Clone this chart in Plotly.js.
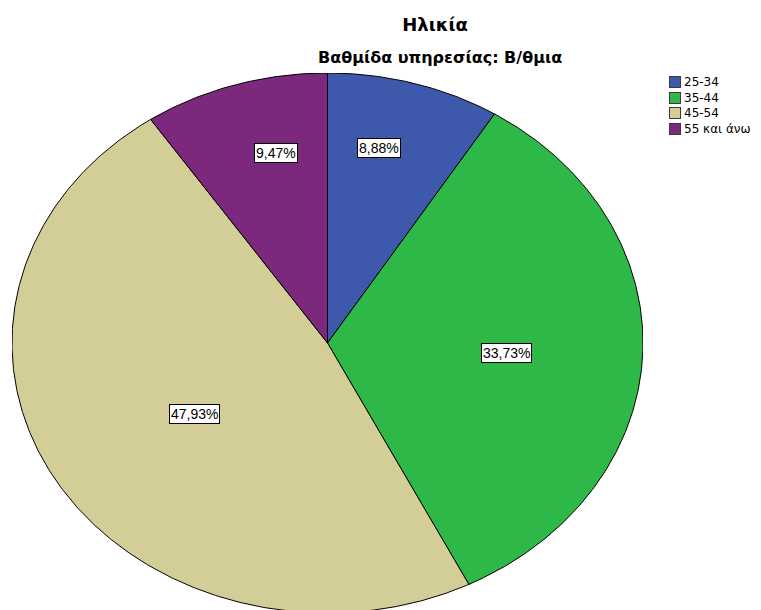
<!DOCTYPE html>
<html>
<head>
<meta charset="utf-8">
<script src="https://cdn.plot.ly/plotly-3.0.1.min.js"></script>
<style>html,body{margin:0;padding:0;background:#fff;}</style>
</head>
<body>
<div id="chart" style="width:761px;height:610px;"></div>
<script>
// ---- data ----
var categories = ["25-34", "35-44", "45-54", "55 και άνω"];
var values = [8.88, 33.73, 47.93, 9.47];
var valueLabels = ["8,88%", "33,73%", "47,93%", "9,47%"];
var colors = ["#3e58ac", "#2eb848", "#d3ce97", "#7c287d"];
var chartTitle = "Ηλικία";
var chartSubtitle = "Βαθμίδα υπηρεσίας: Β/θμια";

// ---- layout constants ----
var W = 761, H = 610;
var M = {l: 12, r: 118, t: 73, b: 0};
var PW = W - M.l - M.r, PH = H - M.t - M.b;
var RY = 270;                       // vertical radius in px (y unit)
var labelFrac = [[0.59, 0.75], [0.567, 0.79], [0.49, 0.52], [0.56, 0.736]];
var FONT = "Arial, 'Liberation Sans', sans-serif";
var WIDEFONT = "'DejaVu Sans', Verdana, sans-serif";
function px2paperX(px) { return (px - M.l) / PW; }
function px2paperY(py) { return (H - M.b - py) / PH; }

var total = values.reduce(function(a, b) { return a + b; }, 0);
var traces = [];
var annotations = [];
var cum = 0;
var DEG = Math.PI / 180;
for (var i = 0; i < values.length; i++) {
  var a0 = cum / total * 360;
  cum += values[i];
  var a1 = cum / total * 360;
  var xs = [0], ys = [0];
  var n = Math.max(2, Math.ceil((a1 - a0) / 0.5));
  for (var k = 0; k <= n; k++) {
    var t = (a0 + (a1 - a0) * k / n) * DEG;
    xs.push(Math.sin(t));
    ys.push(Math.cos(t));
  }
  xs.push(0); ys.push(0);
  traces.push({
    type: "scatter", mode: "lines", x: xs, y: ys,
    fill: "toself", fillcolor: colors[i],
    line: {color: "#000000", width: 1},
    name: categories[i],
    hoverinfo: "text", text: categories[i] + ": " + valueLabels[i],
    showlegend: false
  });
  var mid = (a0 + a1) / 2 * DEG;
  annotations.push({
    x: labelFrac[i][0] * Math.sin(mid), y: labelFrac[i][1] * Math.cos(mid),
    xref: "x", yref: "y", text: valueLabels[i], showarrow: false,
    font: {family: FONT, size: 14, color: "#000"},
    bgcolor: "#ffffff", bordercolor: "#000000", borderwidth: 1, borderpad: 1
  });
}

// ---- legend (drawn as annotations to match the compact original) ----
var legX = 669, legY0 = 82, legFont = 12, legStep = legFont * 1.3;
for (var j = 0; j < categories.length; j++) {
  var cy = legY0 + j * legStep;
  annotations.push({
    xref: "paper", yref: "paper", x: px2paperX(legX), y: px2paperY(cy),
    xanchor: "left", yanchor: "middle", text: "\u00a0", showarrow: false,
    width: 10, height: 10, bgcolor: colors[j], bordercolor: "#3a3a3a", borderwidth: 1, borderpad: 0,
    font: {size: 2}
  });
}
annotations.push({
  xref: "paper", yref: "paper", x: px2paperX(legX + 14), y: px2paperY(legY0 - legStep / 2),
  xanchor: "left", yanchor: "top", align: "left", text: categories.join("<br>"), showarrow: false,
  borderpad: 0,
  font: {family: WIDEFONT, size: legFont, color: "#000"}
});

annotations.push({
  xref: "paper", yref: "paper", x: px2paperX(440), y: px2paperY(57), xanchor: "center", yanchor: "middle",
  text: "<b>" + chartSubtitle + "</b>", showarrow: false,
  font: {family: WIDEFONT, size: 16, color: "#000"}
});

var layout = {
  width: W, height: H,
  margin: M,
  paper_bgcolor: "#ffffff", plot_bgcolor: "rgba(0,0,0,0)",
  title: {
    text: "<b>" + chartTitle + "</b>",
    font: {family: WIDEFONT, size: 18, color: "#000"},
    x: 435 / W, xanchor: "center", xref: "container",
    y: 1 - 25 / H, yanchor: "middle", yref: "container"
  },
  xaxis: {range: [-1, 1], visible: false, fixedrange: true},
  yaxis: {range: [1 - PH / RY, 1], visible: false, fixedrange: true},
  showlegend: false,
  annotations: annotations
};
Plotly.newPlot("chart", traces, layout, {displayModeBar: false, staticPlot: true});
</script>
</body>
</html>
